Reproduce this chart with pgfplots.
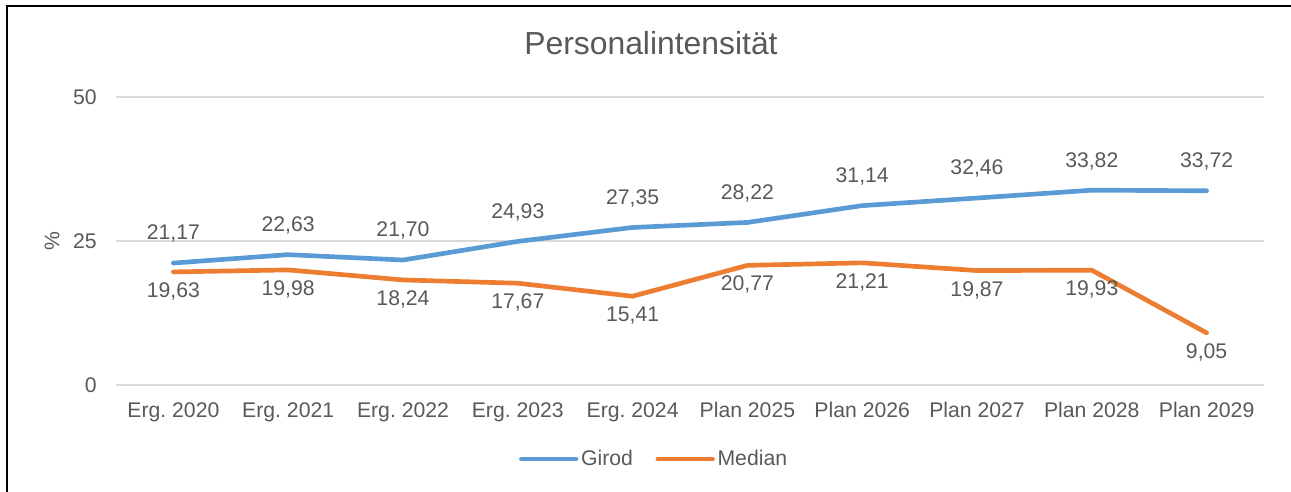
\documentclass[border=0pt]{standalone}
\usepackage{fontspec}
\setmainfont{Liberation Sans}
\usepackage{pgfplots}
\pgfplotsset{compat=1.18}
\frenchspacing
\definecolor{txt}{HTML}{595959}
\definecolor{grd}{HTML}{D9D9D9}
\definecolor{cblue}{HTML}{5B9BD5}
\definecolor{corange}{HTML}{ED7D31}
\begin{document}
\frenchspacing
\begin{tikzpicture}
\path[use as bounding box] (-87pt,-80.25pt) rectangle (881.25pt,288.75pt);
\begin{axis}[
  at={(0,0)}, anchor=south west,
  scale only axis, width=861pt, height=216pt,
  xmin=-0.5, xmax=9.5, ymin=0, ymax=50,
  clip=false,
  axis line style={draw=none},
  tick style={draw=none},
  ymajorgrids, grid style={grd, line width=1.4pt},
  ytick={0,25,50},
  xtick={0,...,9},
  xticklabels={Erg. 2020,Erg. 2021,Erg. 2022,Erg. 2023,Erg. 2024,Plan 2025,Plan 2026,Plan 2027,Plan 2028,Plan 2029},
  xticklabel style={anchor=base, yshift=-24.5pt, text=txt, font=\fontsize{15.9}{19}\selectfont\frenchspacing},
  yticklabel style={anchor=east, inner sep=0pt, xshift=-14.25pt, text=txt, font=\fontsize{15.9}{19}\selectfont},
  /pgf/number format/assume math mode=true,
  ylabel={\%},
  ylabel style={at={(rel axis cs:-0.0557,0.5)}, anchor=center, rotate=0, text=txt, font=\fontsize{15.9}{19}\selectfont},
  title={Personalintensität},
  title style={at={(rel axis cs:0.466,1.16)}, anchor=center, text=txt, font=\fontsize{23.9}{28}\selectfont},
  legend columns=2,
  legend style={at={(0.469,-0.257)}, anchor=center, draw=none, fill=none,
    font=\fontsize{15.9}{19}\selectfont, text=txt,
    /tikz/every even column/.append style={column sep=15pt},
    inner sep=0pt},
  legend cell align=left,
  legend image code/.code={\draw[#1, line width=3.5pt, line cap=round] (0pt,0pt) -- (41pt,0pt);},
  nodes near coords,
  point meta=explicit symbolic,
]
\addplot[cblue, line width=3.5pt, line join=round, line cap=round,
  every node near coord/.style={anchor=base, yshift=17.3pt, text=txt, font=\fontsize{15.9}{19}\selectfont, inner sep=0pt}]
  coordinates {
  (0,21.17) [21,17]
  (1,22.63) [22,63]
  (2,21.70) [21,70]
  (3,24.93) [24,93]
  (4,27.35) [27,35]
  (5,28.22) [28,22]
  (6,31.14) [31,14]
  (7,32.46) [32,46]
  (8,33.82) [33,82]
  (9,33.72) [33,72]
  };
\addlegendentry{Girod}
\addplot[corange, line width=3.5pt, line join=round, line cap=round,
  every node near coord/.style={anchor=base, yshift=-19.2pt, text=txt, font=\fontsize{15.9}{19}\selectfont, inner sep=0pt}]
  coordinates {
  (0,19.63) [19,63]
  (1,19.98) [19,98]
  (2,18.24) [18,24]
  (3,17.67) [17,67]
  (4,15.41) [15,41]
  (5,20.77) [20,77]
  (6,21.21) [21,21]
  (7,19.87) [19,87]
  (8,19.93) [19,93]
  (9,9.05) [9,05]
  };
\addlegendentry{Median}
\end{axis}
\draw[black, line width=1.8pt] (-81.75pt,-81pt) -- (-81.75pt,284.25pt) -- (882pt,284.25pt);
\end{tikzpicture}
\end{document}
